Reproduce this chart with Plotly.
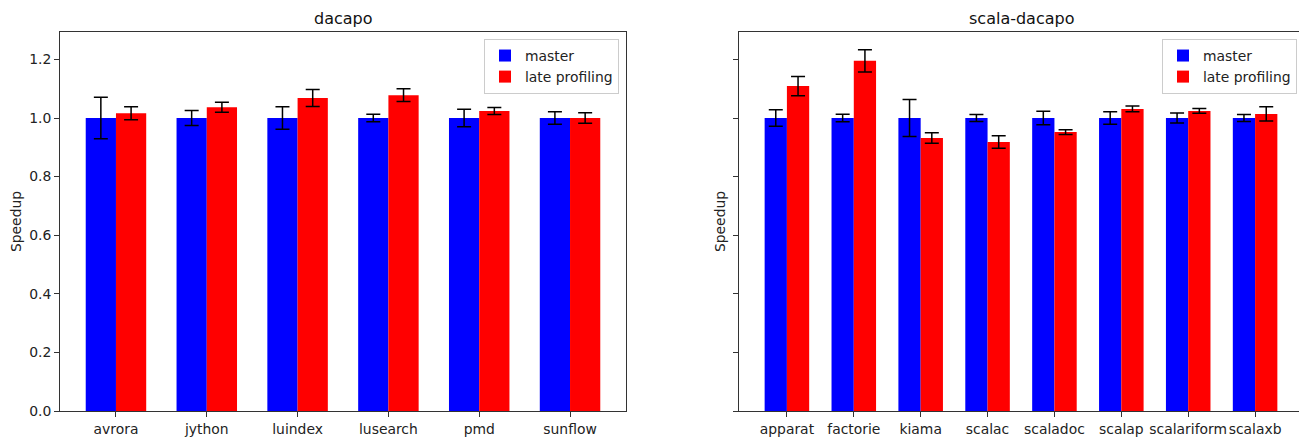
import numpy as np
import plotly.graph_objects as go

# ---- data ----
dacapo_names = ["avrora", "jython", "luindex", "lusearch", "pmd", "sunflow"]
dacapo_master = [1.0, 1.0, 1.0, 1.0, 1.0, 1.0]
dacapo_master_err = [0.071, 0.026, 0.038, 0.013, 0.030, 0.021]
dacapo_late = [1.016, 1.037, 1.068, 1.078, 1.024, 1.0]
dacapo_late_err = [0.022, 0.017, 0.029, 0.022, 0.012, 0.018]

scala_names = ["apparat", "factorie", "kiama", "scalac", "scaladoc", "scalap", "scalariform", "scalaxb"]
scala_master = [1.0, 1.0, 1.0, 1.0, 1.0, 1.0, 1.0, 1.0]
scala_master_err = [0.028, 0.013, 0.063, 0.012, 0.023, 0.021, 0.017, 0.012]
scala_late = [1.109, 1.195, 0.932, 0.918, 0.952, 1.031, 1.024, 1.014]
scala_late_err = [0.033, 0.038, 0.018, 0.021, 0.008, 0.010, 0.008, 0.024]

series_names = ["master", "late profiling"]
colors = ["#0000ff", "#ff0000"]
W = 0.333
FONT = "DejaVu Sans"
FS = 13.9

fig = go.Figure()

def add_group(names, m, me, l, le, xa, ya, legend):
    idx = np.arange(len(names))
    for k, (vals, errs) in enumerate([(m, me), (l, le)]):
        fig.add_trace(go.Bar(
            x=idx + (k - 0.5) * W, y=vals, width=W,
            name=series_names[k], marker=dict(color=colors[k], line=dict(width=0)),
            error_y=dict(type="data", array=errs, visible=True, color="black",
                         thickness=1.5, width=7),
            xaxis=xa, yaxis=ya, legend=legend,
        ))

add_group(dacapo_names, dacapo_master, dacapo_master_err, dacapo_late, dacapo_late_err, "x", "y", "legend")
add_group(scala_names, scala_master, scala_master_err, scala_late, scala_late_err, "x2", "y2", "legend2")

# page body has an 8px margin; size the figure so it fits the 1307x437 window
OFF = 8
W_PX, H_PX = 1307 - OFF, 437 - OFF
def px(v):
    return (v - OFF) / W_PX
def py(v):
    return 1 - (v - OFF) / H_PX

axis_common = dict(showline=True, linecolor="#333333", linewidth=1, mirror=True,
                   ticks="outside", ticklen=5, tickcolor="#333333", showgrid=False,
                   zeroline=False, automargin=False,
                   tickfont=dict(family=FONT, size=FS, color="#222"))

def xlim(n):
    lo, hi = -W, n - 1 + W
    pad = 0.05 * (hi - lo)
    return [lo - pad, hi + pad]

ymax = 1.2935
TITLE_FS = 16
fig.update_layout(
    width=W_PX, height=H_PX,
    margin=dict(l=0, r=0, t=0, b=0),
    paper_bgcolor="white", plot_bgcolor="white",
    barmode="overlay",
    font=dict(family=FONT, color="#222"),
    xaxis=dict(domain=[px(60), px(626)], range=xlim(len(dacapo_names)), anchor="y", tickangle=0,
               tickvals=list(range(len(dacapo_names))), ticktext=dacapo_names, **axis_common),
    yaxis=dict(domain=[py(411), py(32)], range=[0, ymax], anchor="x", dtick=0.2, tickformat=".1f",
               title=dict(text="Speedup", font=dict(family=FONT, size=FS), standoff=16), **axis_common),
    xaxis2=dict(domain=[px(739), px(1303)], range=xlim(len(scala_names)), anchor="y2", tickangle=0,
                tickvals=list(range(len(scala_names))), ticktext=scala_names, **axis_common),
    yaxis2=dict(domain=[py(411), py(32)], range=[0, ymax], anchor="x2", dtick=0.2,
                showticklabels=False,
                title=dict(text="Speedup", font=dict(family=FONT, size=FS), standoff=4), **axis_common),
    legend=dict(x=px(619), y=py(39), xanchor="right", yanchor="top",
                bgcolor="rgba(255,255,255,0.8)", bordercolor="#cccccc", borderwidth=1,
                font=dict(family=FONT, size=FS), itemwidth=30, tracegroupgap=2),
    legend2=dict(x=px(1297), y=py(39), xanchor="right", yanchor="top",
                 bgcolor="rgba(255,255,255,0.8)", bordercolor="#cccccc", borderwidth=1,
                 font=dict(family=FONT, size=FS), itemwidth=30, tracegroupgap=2),
    annotations=[
        dict(text="dacapo", x=px(343), y=1, xref="paper", yref="paper",
             xanchor="center", yanchor="top", showarrow=False, borderpad=0,
             font=dict(family=FONT, size=TITLE_FS, color="#111")),
        dict(text="scala-dacapo", x=px(1021), y=1, xref="paper", yref="paper",
             xanchor="center", yanchor="top", showarrow=False, borderpad=0,
             font=dict(family=FONT, size=TITLE_FS, color="#111")),
    ],
)

fig.write_html("out.html")
